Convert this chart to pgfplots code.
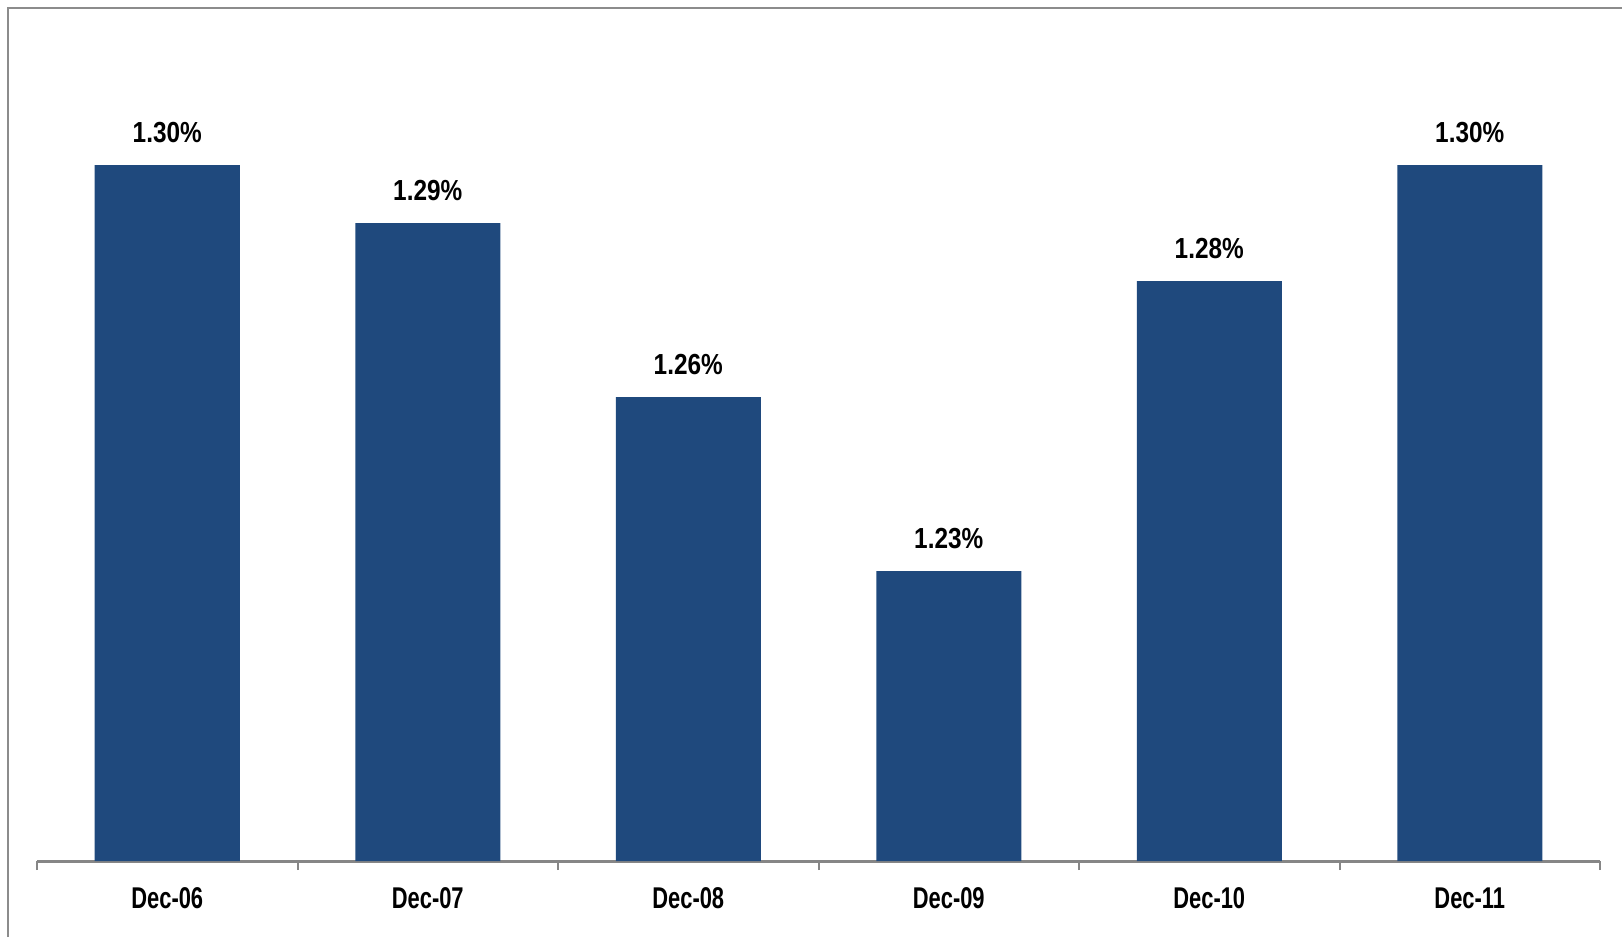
\documentclass[border=0pt]{standalone}
\usepackage{pgfplots}
\pgfplotsset{compat=1.18}
\usepackage{fontspec}
\setmainfont{Liberation Sans}[FakeStretch=0.84]
\newfontfamily\ticknarrow{Liberation Sans}[FakeStretch=0.73]
\definecolor{barblue}{RGB}{31,73,125}
\definecolor{axgray}{RGB}{134,134,134}
\definecolor{framegray}{RGB}{140,140,140}
\begin{document}
\begin{tikzpicture}[x=1pt,y=1pt]
\useasboundingbox (0,0) rectangle (811,468.5);
\draw[framegray, line width=1pt] (4,0) -- (4,464.5) -- (811,464.5);
\begin{axis}[
  at={(18.5pt,38pt)}, anchor=south west,
  scale only axis, width=781.5pt, height=415.5pt,
  xmin=-0.5, xmax=5.5, ymin=1.18, ymax=1.3233,
  axis y line=none, axis x line*=bottom,
  axis line style={axgray, line width=1.5pt},
  xtick={0,1,2,3,4,5},
  xticklabels={Dec-06,Dec-07,Dec-08,Dec-09,Dec-10,Dec-11},
  major tick length=0pt,
  minor xtick={-0.5,0.5,1.5,2.5,3.5,4.5,5.5},
  minor tick length=4.5pt, tick align=outside,
  minor tick style={axgray, line width=1pt},
  xticklabel style={anchor=base, inner sep=0pt, yshift=-23.5pt, font=\ticknarrow\fontsize{15}{15}\selectfont\bfseries},
  ybar, bar width=72.5pt, bar shift=0pt,
  point meta=explicit symbolic,
  nodes near coords,
  every node near coord/.append style={anchor=base, inner sep=0pt, yshift=11.5pt, font=\fontsize{14.5}{14.5}\selectfont\bfseries, text=black},
  clip=false,
]
\addplot[fill=barblue, draw=none] coordinates {
  (0,1.30) [1.30\%]
  (1,1.29) [1.29\%]
  (2,1.26) [1.26\%]
  (3,1.23) [1.23\%]
  (4,1.28) [1.28\%]
  (5,1.30) [1.30\%]
};
\end{axis}
\end{tikzpicture}
\end{document}
